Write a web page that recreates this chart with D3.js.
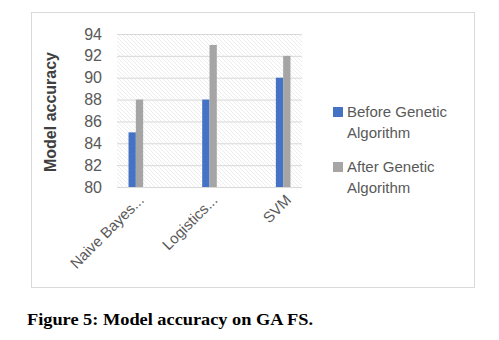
<!DOCTYPE html>
<html><head><meta charset="utf-8">
<script src="https://cdn.jsdelivr.net/npm/d3@7"></script>
<style>body{margin:0;background:#fff}svg{display:block}</style>
</head><body>
<script>
const categories = ["Naive Bayes...", "Logistics...", "SVM"];
const seriesNames = ["Before Genetic Algorithm", "After Genetic Algorithm"];
const beforeGA = [85, 88, 90];
const afterGA = [88, 93, 92];
const yTicks = [80, 82, 84, 86, 88, 90, 92, 94];
const colors = ["#4472C4", "#A5A5A5"];

const W = 499, H = 340;
const svg = d3.select("body").append("svg").attr("width", W).attr("height", H);
const defs = svg.append("defs");
const pat = defs.append("pattern").attr("id","hatch").attr("patternUnits","userSpaceOnUse")
  .attr("width",4).attr("height",4);
pat.append("rect").attr("width",4).attr("height",4).attr("fill","#fff");
pat.append("path").attr("d","M-1,-1 L5,5 M-1,3 L1,5 M3,-1 L5,1").attr("stroke","#ededed").attr("stroke-width",1);

// chart border
svg.append("rect").attr("x",31.5).attr("y",12.5).attr("width",443).attr("height",275)
  .attr("fill","#fff").attr("stroke","#d9d9d9");

const plotL = 117, plotR = 302;
const y = d3.scaleLinear().domain([80,94]).range([187,34]);
const x0 = d3.scalePoint().domain(categories).range([99,320]).padding(0.5);
const x1 = d3.scaleBand().domain(seriesNames).range([-7.3,7.3]);

svg.append("rect").attr("x",plotL).attr("y",y(94)).attr("width",plotR-plotL).attr("height",y(80)-y(94))
  .attr("fill","url(#hatch)");

const yAxis = d3.axisLeft(y).tickValues(yTicks).tickSize(-(plotR-plotL)).tickPadding(15);
const gy = svg.append("g").attr("transform",`translate(${plotL},0)`).call(yAxis);
gy.select(".domain").remove();
gy.selectAll(".tick line").attr("stroke","#d9d9d9");
gy.selectAll(".tick text").attr("fill","#595959").attr("font-family","Liberation Sans, Arial, sans-serif").attr("font-size",16);

const data = [beforeGA, afterGA];
seriesNames.forEach((s,si)=>{
  svg.append("g").selectAll("rect").data(categories).join("rect")
    .attr("x",c=>x0(c)+x1(s)).attr("width",x1.bandwidth())
    .attr("y",(c,i)=>y(data[si][i])).attr("height",(c,i)=>y(80)-y(data[si][i]))
    .attr("fill",colors[si]);
});

// x labels
svg.append("g").selectAll("text").data(categories).join("text")
  .attr("transform",c=>`translate(${x0(c)+9},${y(80)+14}) rotate(-45)`)
  .attr("text-anchor","end").attr("fill","#595959")
  .attr("font-family","Liberation Sans, Arial, sans-serif").attr("font-size",15)
  .text(c=>c);

// y title
svg.append("text").attr("transform","translate(56,112) rotate(-90)")
  .attr("text-anchor","middle").attr("font-weight","bold").attr("fill","#404040")
  .attr("font-family","Liberation Sans, Arial, sans-serif").attr("font-size",16)
  .text("Model accuracy");

// legend
const legendLines = [["Before Genetic","Algorithm"],["After Genetic","Algorithm"]];
seriesNames.forEach((s,i)=>{
  const ly = 107 + i*55;
  svg.append("rect").attr("x",333).attr("y",ly).attr("width",10).attr("height",10).attr("fill",colors[i]);
  const t = svg.append("text").attr("fill","#595959")
    .attr("font-family","Liberation Sans, Arial, sans-serif").attr("font-size",15);
  t.append("tspan").attr("x",347).attr("y",ly+10).text(legendLines[i][0]);
  t.append("tspan").attr("x",347).attr("y",ly+31).text(legendLines[i][1]);
});

// caption
svg.append("text").attr("x",27).attr("y",325).attr("font-family","Liberation Serif, serif")
  .attr("font-weight","bold").attr("font-size",17).attr("fill","#000")
  .attr("textLength",286).attr("lengthAdjust","spacingAndGlyphs")
  .text("Figure 5: Model accuracy on GA FS.");
</script>
</body></html>
